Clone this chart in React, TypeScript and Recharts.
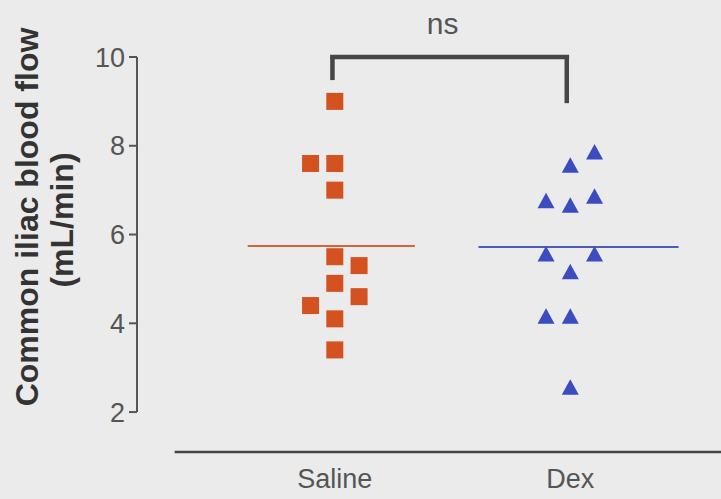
import React from 'react';
import {
  ScatterChart,
  Scatter,
  XAxis,
  YAxis,
  ReferenceLine,
} from 'recharts';

const groups = ['Saline', 'Dex'];
const yTicks = [2, 4, 6, 8, 10];

// values (mL/min); columns = horizontal jitter slot (-1, 0, 1)
const salineValues = [9.0, 7.6, 7.6, 7.0, 5.5, 5.3, 4.9, 4.6, 4.4, 4.1, 3.4];
const salineColumns = [0, -1, 0, 0, 0, 1, 0, 1, -1, 0, 0];
const dexValues = [7.85, 7.55, 6.75, 6.65, 6.85, 5.55, 5.55, 5.15, 4.15, 4.15, 2.55];
const dexColumns = [1, 0, -1, 0, 1, -1, 1, 0, -1, 0, 0];

const salineMean = 5.74;
const dexMean = 5.72;

const JITTER = 0.103;
const X_DOMAIN: [number, number] = [0.16, 2.64];
const Y_DOMAIN: [number, number] = [1.1, 10];

const salineData = salineValues.map((y, i) => ({ x: 1 + salineColumns[i] * JITTER, y }));
const dexData = dexValues.map((y, i) => ({ x: 2 + dexColumns[i] * JITTER, y }));

const ORANGE = '#d4521f';
const BLUE = '#3a4cc0';
const INK = '#555555';
const BRACKET = '#464646';

const Square = (props: any) => {
  const { cx, cy } = props;
  return <rect x={cx - 8.5} y={cy - 8.5} width={17} height={17} fill={ORANGE} />;
};

const Triangle = (props: any) => {
  const { cx, cy } = props;
  return (
    <polygon
      points={`${cx},${cy - 8.5} ${cx - 8.5},${cy + 7} ${cx + 8.5},${cy + 7}`}
      fill={BLUE}
    />
  );
};

const YLabel = () => (
  <g fontFamily="'Liberation Sans', Arial, sans-serif" fontWeight="bold" fontSize={32} fill="#333">
    <text x={38} y={217} textAnchor="middle" transform="rotate(-90, 38, 217)">
      Common iliac blood flow
    </text>
    <text x={73} y={220} textAnchor="middle" transform="rotate(-90, 73, 220)">
      (mL/min)
    </text>
  </g>
);

export default function App() {
  return (
    <div style={{ position: 'absolute', left: 0, top: 0, width: 721, height: 499, background: '#ebebeb' }}>
      <ScatterChart
        width={721}
        height={499}
        margin={{ top: 57, right: 0, left: 0, bottom: 0 }}
        style={{ fontFamily: "'Liberation Sans', Arial, sans-serif" }}
      >
        <XAxis
          type="number"
          dataKey="x"
          domain={X_DOMAIN}
          ticks={[1, 2]}
          tickFormatter={(v) => groups[v - 1] ?? ''}
          allowDataOverflow
          axisLine={false}
          tickLine={false}
          tickSize={0}
          tickMargin={17}
          height={47}
          tick={{ fill: INK, fontSize: 27 }}
        />
        <YAxis
          type="number"
          dataKey="y"
          domain={Y_DOMAIN}
          ticks={yTicks}
          allowDataOverflow
          width={137}
          axisLine={false}
          tickLine={{ stroke: INK, strokeWidth: 2 }}
          tickSize={8}
          tickMargin={4}
          tick={{ fill: INK, fontSize: 27 }}
          label={{ content: () => <YLabel /> }}
        />

        {/* offset axis lines */}
        <ReferenceLine
          segment={[{ x: X_DOMAIN[0], y: 2 }, { x: X_DOMAIN[0], y: 10 }]}
          stroke={INK}
          strokeWidth={2}
          ifOverflow="visible"
        />
        <ReferenceLine
          segment={[{ x: 0.32, y: Y_DOMAIN[0] }, { x: X_DOMAIN[1], y: Y_DOMAIN[0] }]}
          stroke="#444"
          strokeWidth={2.5}
          ifOverflow="visible"
        />

        {/* group means */}
        <ReferenceLine
          segment={[{ x: 1 - 0.37, y: salineMean }, { x: 1 + 0.34, y: salineMean }]}
          stroke="#d2663a"
          strokeWidth={2}
          ifOverflow="visible"
        />
        <ReferenceLine
          segment={[{ x: 2 - 0.39, y: dexMean }, { x: 2 + 0.46, y: dexMean }]}
          stroke="#4d5cb8"
          strokeWidth={2}
          ifOverflow="visible"
        />

        {/* significance bracket */}
        <ReferenceLine
          segment={[{ x: 0.99, y: 9.48 }, { x: 0.99, y: 10 }]}
          stroke={BRACKET}
          strokeWidth={4.5}
          ifOverflow="visible"
        />
        <ReferenceLine
          segment={[{ x: 1.985, y: 8.96 }, { x: 1.985, y: 10 }]}
          stroke={BRACKET}
          strokeWidth={4.5}
          ifOverflow="visible"
        />
        <ReferenceLine
          segment={[{ x: 0.98, y: 10 }, { x: 1.995, y: 10 }]}
          stroke={BRACKET}
          strokeWidth={4.5}
          ifOverflow="visible"
          label={{ value: 'ns', position: 'top', offset: 23, dx: -7, fill: INK, fontSize: 30 }}
        />

        <Scatter data={salineData} shape={<Square />} isAnimationActive={false} />
        <Scatter data={dexData} shape={<Triangle />} isAnimationActive={false} />
      </ScatterChart>
    </div>
  );
}
